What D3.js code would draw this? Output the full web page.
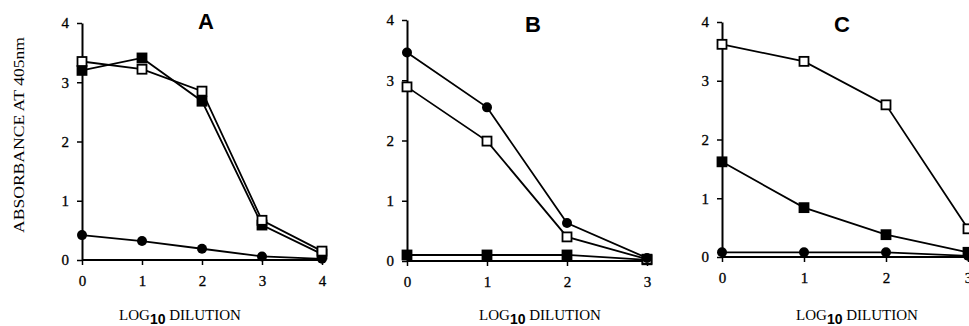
<!DOCTYPE html>
<html>
<head>
<meta charset="utf-8">
<script src="https://cdn.jsdelivr.net/npm/d3@7"></script>
<style>
  body { margin: 0; background: #fff; }
  svg { display: block; }
</style>
</head>
<body>
<svg id="chart" width="969" height="326"></svg>
<script>
// values (absorbance at 405nm vs log10 dilution)
const dilA = [0, 1, 2, 3, 4];
const dilBC = [0, 1, 2, 3];
const yTicks = [0, 1, 2, 3, 4];

const A_openSq = [3.35, 3.22, 2.85, 0.67, 0.15];
const A_fillSq = [3.2, 3.41, 2.68, 0.59, 0.1];
const A_circle = [0.42, 0.32, 0.19, 0.06, 0.02];

const B_circle = [3.46, 2.55, 0.63, 0.05];
const B_openSq = [2.89, 1.99, 0.4, 0.03];
const B_fillSq = [0.1, 0.1, 0.1, 0.02];

const C_openSq = [3.62, 3.33, 2.59, 0.48];
const C_fillSq = [1.62, 0.84, 0.38, 0.08];
const C_circle = [0.08, 0.08, 0.08, 0.02];

const svg = d3.select("#chart");

// panel layout (pixels)
const panels = [
  { title: "A", x: dilA, xMax: 4, left: 82, right: 322, axisEnd: 325, top: 23, bottom: 260,
    titleX: 206, titleY: 29, labelX: 180,
    series: [ { v: A_circle, m: "circle" }, { v: A_fillSq, m: "fill" }, { v: A_openSq, m: "open" } ] },
  { title: "B", x: dilBC, xMax: 3, left: 407, right: 647, axisEnd: 648, top: 20, bottom: 261,
    titleX: 533, titleY: 32, labelX: 540,
    series: [ { v: B_fillSq, m: "fill" }, { v: B_openSq, m: "open" }, { v: B_circle, m: "circle" } ] },
  { title: "C", x: dilBC, xMax: 3, left: 722, right: 968, axisEnd: 975, top: 22, bottom: 257,
    titleX: 842, titleY: 32, labelX: 857,
    series: [ { v: C_circle, m: "circle" }, { v: C_fillSq, m: "fill" }, { v: C_openSq, m: "open" } ] }
];

function styleAxis(a) {
  a.attr("font-family", "'Liberation Serif', serif").attr("font-size", 15);
  a.select(".domain").attr("stroke", "#000").attr("stroke-width", 2);
  a.selectAll(".tick line").attr("stroke", "#000").attr("stroke-width", 1.5);
  a.selectAll(".tick text").attr("fill", "#000").attr("stroke", "#000").attr("stroke-width", 0.3);
}

panels.forEach(p => {
  const x = d3.scaleLinear().domain([0, p.xMax]).range([p.left, p.right]);
  const y = d3.scaleLinear().domain([0, 4]).range([p.bottom, p.top]);
  const g = svg.append("g");

  // y axis
  const ya = g.append("g").attr("transform", `translate(${p.left},0)`)
    .call(d3.axisLeft(y).tickValues(yTicks).tickFormat(d3.format("d")).tickSize(5).tickSizeOuter(0).tickPadding(8));
  styleAxis(ya);

  // x axis
  const xa = g.append("g").attr("transform", `translate(0,${p.bottom})`)
    .call(d3.axisBottom(x).tickValues(p.x).tickFormat(d3.format("d")).tickSize(5).tickSizeOuter(0).tickPadding(10));
  styleAxis(xa);
  xa.select(".domain").attr("d", `M${p.left},0H${p.axisEnd}`);

  // title
  g.append("text").attr("x", p.titleX).attr("y", p.titleY)
    .attr("text-anchor", "middle")
    .style("font-family", "'Liberation Sans', Arial, sans-serif").style("font-weight", "bold")
    .style("font-size", "22px").text(p.title);

  // x label
  const lab = g.append("text").attr("x", p.labelX).attr("y", 320)
    .attr("text-anchor", "middle")
    .style("font-family", "'Liberation Serif', serif").style("font-size", "15px").attr("fill", "#000");
  lab.append("tspan").text("LOG");
  lab.append("tspan").attr("dy", 4).style("font-family", "'Liberation Sans', sans-serif")
    .style("font-weight", "bold").style("font-size", "14px").text("10");
  lab.append("tspan").attr("dy", -4).text(" DILUTION");

  const line = d3.line().x((d, i) => x(p.x[i])).y(d => y(d));

  p.series.forEach(s => {
    g.append("path").datum(s.v).attr("d", line)
      .attr("fill", "none").attr("stroke", "#000").attr("stroke-width", 1.8);
  });
  p.series.forEach(s => {
    const pts = g.append("g").selectAll("x").data(s.v).enter();
    if (s.m === "circle") {
      pts.append("circle").attr("cx", (d, i) => x(p.x[i])).attr("cy", d => y(d))
        .attr("r", 5).attr("fill", "#000");
    } else {
      pts.append("rect").attr("x", (d, i) => x(p.x[i]) - 4.5).attr("y", d => y(d) - 4.5)
        .attr("width", 9).attr("height", 9)
        .attr("fill", s.m === "open" ? "#fff" : "#000")
        .attr("stroke", "#000").attr("stroke-width", 1.8);
    }
  });
});

// y axis title
svg.append("text").attr("transform", "translate(24,135) rotate(-90)")
  .attr("text-anchor", "middle")
  .style("font-family", "'Liberation Serif', serif").style("font-size", "15px").attr("fill", "#000")
  .attr("textLength", 196).attr("lengthAdjust", "spacingAndGlyphs")
  .text("ABSORBANCE AT 405nm");
</script>
</body>
</html>
